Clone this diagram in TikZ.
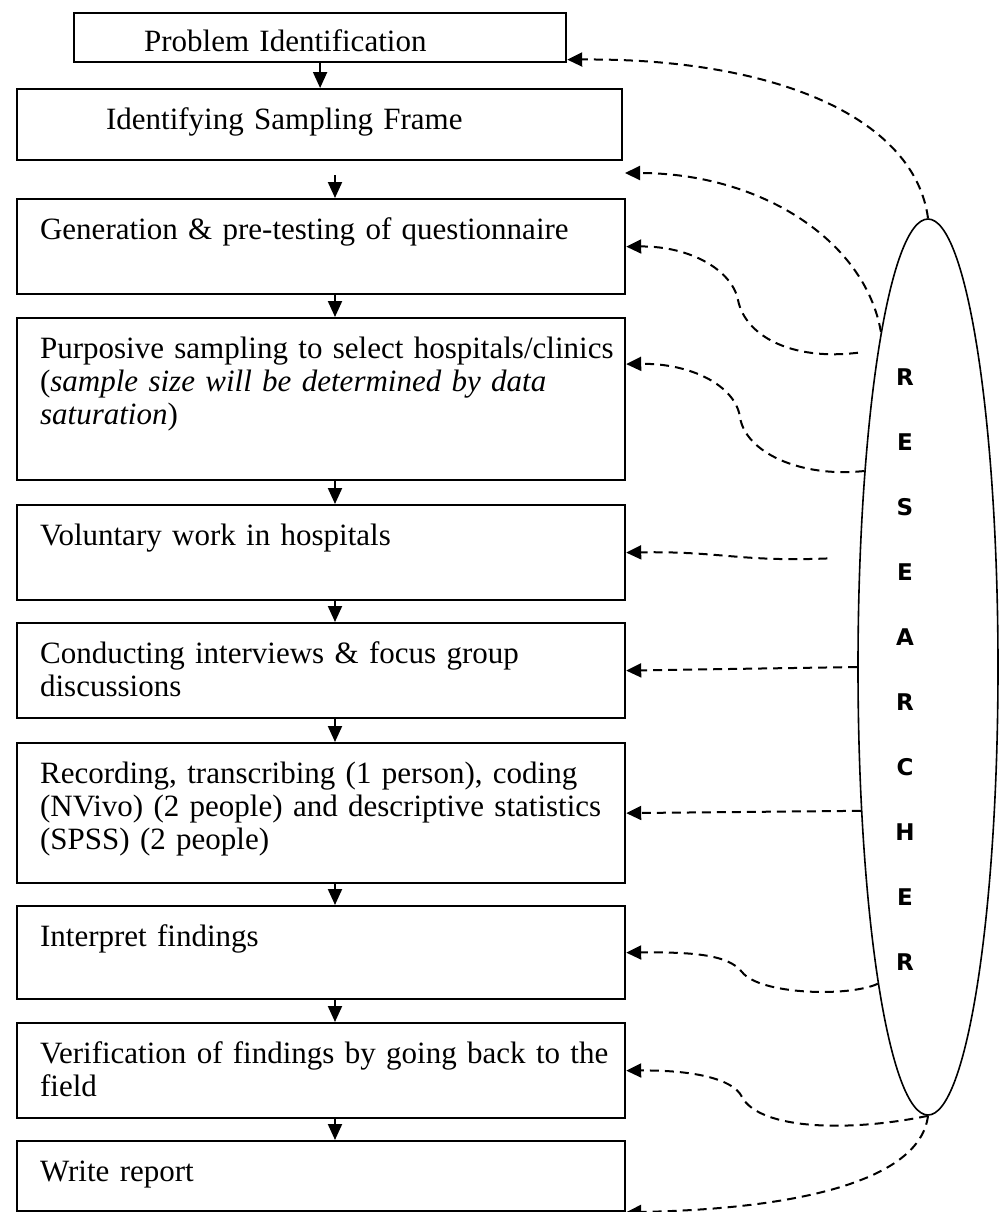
\documentclass[tikz,border=0pt]{standalone}
\usepackage{fontspec}
\setmainfont{Liberation Serif}
\newfontfamily\letterfont{DejaVu Sans}
\usetikzlibrary{arrows.meta,shapes.geometric}
\newcommand{\stagesize}{\fontsize{15.5}{16.5}\selectfont}
\tikzset{
  stagebox/.style={draw=black,line width=1.1pt,anchor=north west,inner sep=0pt,
    align=left,text width=304pt,text height=20pt,font=\stagesize,
    execute at begin node={\leftskip=#1}},
  stagebox/.default=11.5pt,
  flowarrow/.style={draw=black,line width=1pt,-{Triangle[length=8pt,width=7pt]}},
  dasharrow/.style={draw=black,line width=1pt,dash pattern=on 4.5pt off 3pt,
    -{Triangle[length=7.5pt,width=7pt]}},
}

\begin{document}
\begin{tikzpicture}[x=0.5pt,y=-0.5pt]
  \useasboundingbox (0,0) rectangle (1006,1212);
  % steps of the study
  \node[stagebox=35pt,text width=246pt,text height=19pt,text depth=5.5pt] (b1) at (73,12) {Problem Identification};
  \node[stagebox=44.5pt,text width=302.5pt,text depth=15.5pt] (b2) at (16,88) {Identifying Sampling Frame};
  \node[stagebox,text depth=27.5pt] (b3) at (16,198) {Generation \& pre-testing of questionnaire};
  \node[stagebox,text depth=61pt] (b4) at (16,317) {Purposive sampling to select hospitals/clinics\\
    (\textit{sample size will be determined by data}\\ \textit{saturation})};
  \node[stagebox,text depth=27.5pt] (b5) at (16,504) {Voluntary work in hospitals};
  \node[stagebox,text depth=27.5pt] (b6) at (16,622) {Conducting interviews \& focus group\\ discussions};
  \node[stagebox,text depth=50pt] (b7) at (16,742) {Recording, transcribing (1 person), coding\\
    (NVivo) (2 people) and descriptive statistics\\ (SPSS) (2 people)};
  \node[stagebox,text depth=26.5pt] (b8) at (16,905) {Interpret findings};
  \node[stagebox,text depth=27.5pt] (b9) at (16,1022) {Verification of findings by going back to the\\ field};
  \node[stagebox,text depth=15pt] (b10) at (16,1140) {Write report};

  % researcher
  \node[draw=black,line width=0.8pt,ellipse,minimum width=70pt,minimum height=448pt,inner sep=0pt] (researcher) at (928,667) {};
  \node[align=center,font=\fontsize{11.5}{32.5}\selectfont\letterfont\bfseries] (rword) at (905,670)
    {R\\E\\S\\E\\A\\R\\C\\H\\E\\R};

  % flow
  \coordinate (col) at (335,0);
  \coordinate (b2drop) at (335,175);
  \coordinate (gap23) at (625,173);
  \draw[flowarrow] (b1.south) -- (b1.south |- b2.north);
  \draw[flowarrow] (b2drop) -- (b3.north -| b2drop);
  \foreach \a/\b in {3/4,4/5,5/6,6/7,7/8,8/9,9/10}
    {\draw[flowarrow] (b\a.south -| col) -- (b\b.north -| col);}

  % researcher involvement
  \draw[dasharrow] (researcher.north) .. controls (915,120) and (780,58) .. ([yshift=-11pt]b1.east);
  \draw[dasharrow] (researcher.98.2) .. controls (865,240) and (760,173) .. (gap23);
  \draw[dasharrow,shorten <=10pt] (researcher.99.5) .. controls (790,361) and (745,335) .. (738,300)
    .. controls (732,270) and (690,246) .. (b3.east);
  \draw[dasharrow] (researcher.108.6) .. controls (800,478) and (745,452) .. (740,417)
    .. controls (735,385) and (690,363) .. ([yshift=17.5pt]b4.east);
  \draw[dasharrow,shorten <=16pt] (researcher.122.9) .. controls (740,562) and (720,551) .. (b5.east);
  \draw[dasharrow] (researcher.west) -- (b6.east);
  \draw[dasharrow] (researcher.245) -- (b7.east);
  \draw[dasharrow] (researcher.261.3) .. controls (850,997) and (760,995) .. (742,972)
    .. controls (728,954) and (690,952) .. (b8.east);
  \draw[dasharrow] (researcher.south) .. controls (850,1132) and (760,1130) .. (742,1097)
    .. controls (733,1078) and (690,1070) .. (b9.east);
  \draw[dasharrow] (researcher.south) .. controls (920,1180) and (800,1209) .. (b10.south east);
\end{tikzpicture}
\end{document}
